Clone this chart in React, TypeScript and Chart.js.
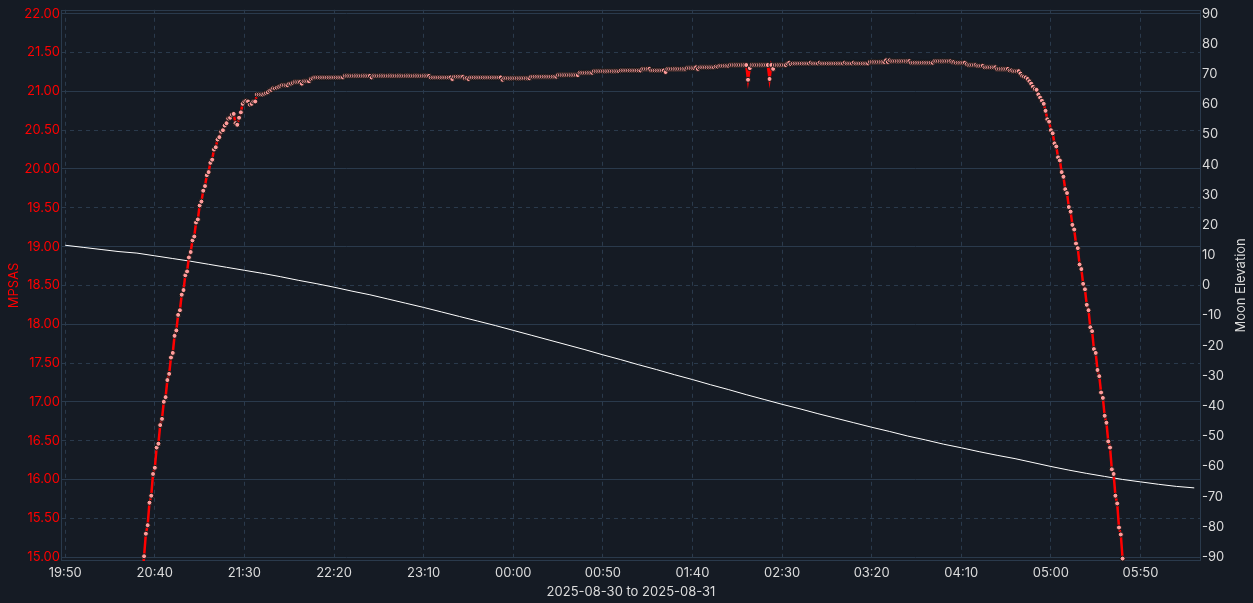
import { useEffect, useRef } from "react";
import { Chart, registerables } from "chart.js";

Chart.register(...registerables);

// ---- data ----
const axisOrigin = "19:50";
const xTickLabels = ["19:50", "20:40", "21:30", "22:20", "23:10", "00:00", "00:50", "01:40", "02:30", "03:20", "04:10", "05:00", "05:50"];
const mpsasTicks = [15, 15.5, 16, 16.5, 17, 17.5, 18, 18.5, 19, 19.5, 20, 20.5, 21, 21.5, 22];
const moonTicks = [-90, -80, -70, -60, -50, -40, -30, -20, -10, 0, 10, 20, 30, 40, 50, 60, 70, 80, 90];

// sky brightness, one reading per minute from 20:33
const mpsasStart = "20:33";
const mpsasStep = 1;
const mpsasValues = [
  14.72,
  15.01, 15.30, 15.41, 15.70, 15.79, 16.07, 16.15, 16.41, 16.46, 16.70,
  16.78, 17.00, 17.06, 17.28, 17.36, 17.57, 17.63, 17.85, 17.92, 18.12,
  18.18, 18.38, 18.44, 18.63, 18.68, 18.86, 18.93, 19.08, 19.13, 19.31,
  19.35, 19.53, 19.58, 19.72, 19.78, 19.92, 19.96, 20.08, 20.12, 20.25,
  20.28, 20.38, 20.41, 20.48, 20.50, 20.56, 20.59, 20.65, 20.66, 20.70,
  20.71, 20.59, 20.57, 20.66, 20.73, 20.84, 20.87, 20.88, 20.87, 20.83,
  20.84, 20.87, 20.87, 20.96, 20.96, 20.96, 20.96, 20.97, 20.98, 20.99,
  21.01, 21.02, 21.04, 21.04, 21.05, 21.06, 21.07, 21.08, 21.08, 21.08,
  21.08, 21.10, 21.10, 21.11, 21.12, 21.12, 21.12, 21.12, 21.10, 21.13,
  21.13, 21.13, 21.13, 21.16, 21.17, 21.18, 21.18, 21.18, 21.18, 21.18,
  21.18, 21.18, 21.18, 21.18, 21.18, 21.18, 21.18, 21.18, 21.18, 21.18,
  21.18, 21.18, 21.20, 21.20, 21.20, 21.20, 21.20, 21.20, 21.20, 21.20,
  21.20, 21.20, 21.20, 21.20, 21.20, 21.20, 21.20, 21.18, 21.20, 21.20,
  21.20, 21.20, 21.20, 21.20, 21.20, 21.20, 21.20, 21.20, 21.20, 21.20,
  21.20, 21.20, 21.20, 21.20, 21.20, 21.20, 21.20, 21.20, 21.20, 21.20,
  21.20, 21.20, 21.20, 21.20, 21.20, 21.20, 21.20, 21.20, 21.20, 21.20,
  21.18, 21.18, 21.18, 21.18, 21.18, 21.18, 21.18, 21.18, 21.18, 21.18,
  21.18, 21.18, 21.16, 21.19, 21.19, 21.19, 21.19, 21.19, 21.19, 21.17,
  21.17, 21.16, 21.18, 21.18, 21.18, 21.18, 21.18, 21.18, 21.18, 21.18,
  21.18, 21.18, 21.18, 21.18, 21.18, 21.18, 21.18, 21.18, 21.18, 21.18,
  21.15, 21.17, 21.17, 21.17, 21.17, 21.17, 21.17, 21.17, 21.17, 21.17,
  21.17, 21.17, 21.17, 21.17, 21.17, 21.17, 21.19, 21.19, 21.19, 21.19,
  21.19, 21.19, 21.19, 21.19, 21.19, 21.19, 21.19, 21.19, 21.19, 21.19,
  21.19, 21.21, 21.21, 21.21, 21.21, 21.21, 21.21, 21.21, 21.21, 21.21,
  21.21, 21.21, 21.21, 21.24, 21.24, 21.24, 21.24, 21.24, 21.24, 21.24,
  21.24, 21.26, 21.26, 21.26, 21.26, 21.26, 21.26, 21.26, 21.26, 21.26,
  21.26, 21.26, 21.26, 21.26, 21.26, 21.26, 21.27, 21.27, 21.27, 21.27,
  21.27, 21.27, 21.27, 21.27, 21.27, 21.27, 21.27, 21.27, 21.29, 21.29,
  21.29, 21.29, 21.29, 21.27, 21.27, 21.27, 21.27, 21.27, 21.27, 21.27,
  21.27, 21.25, 21.29, 21.29, 21.29, 21.29, 21.29, 21.29, 21.29, 21.29,
  21.29, 21.29, 21.29, 21.30, 21.30, 21.30, 21.30, 21.30, 21.31, 21.29,
  21.31, 21.31, 21.31, 21.31, 21.31, 21.31, 21.31, 21.31, 21.31, 21.32,
  21.32, 21.33, 21.33, 21.33, 21.33, 21.33, 21.33, 21.34, 21.34, 21.34,
  21.34, 21.34, 21.34, 21.34, 21.34, 21.34, 21.34, 21.15, 21.30, 21.34,
  21.34, 21.34, 21.34, 21.34, 21.34, 21.34, 21.34, 21.34, 21.34, 21.16,
  21.34, 21.29, 21.34, 21.34, 21.34, 21.34, 21.34, 21.34, 21.34, 21.36,
  21.37, 21.35, 21.36, 21.36, 21.36, 21.36, 21.36, 21.36, 21.36, 21.36,
  21.36, 21.36, 21.37, 21.36, 21.36, 21.36, 21.36, 21.37, 21.36, 21.36,
  21.36, 21.36, 21.36, 21.36, 21.36, 21.36, 21.36, 21.36, 21.36, 21.36,
  21.36, 21.37, 21.36, 21.36, 21.36, 21.36, 21.37, 21.36, 21.36, 21.36,
  21.36, 21.36, 21.36, 21.36, 21.36, 21.38, 21.38, 21.38, 21.38, 21.38,
  21.38, 21.38, 21.38, 21.38, 21.40, 21.38, 21.40, 21.39, 21.39, 21.39,
  21.39, 21.39, 21.39, 21.39, 21.39, 21.39, 21.39, 21.39, 21.37, 21.37,
  21.37, 21.37, 21.37, 21.37, 21.37, 21.37, 21.37, 21.37, 21.37, 21.37,
  21.37, 21.39, 21.39, 21.39, 21.39, 21.39, 21.39, 21.39, 21.39, 21.39,
  21.39, 21.38, 21.38, 21.37, 21.37, 21.37, 21.37, 21.37, 21.37, 21.35,
  21.34, 21.34, 21.34, 21.34, 21.34, 21.33, 21.33, 21.33, 21.33, 21.31,
  21.31, 21.31, 21.31, 21.31, 21.31, 21.31, 21.29, 21.29, 21.29, 21.29,
  21.29, 21.29, 21.29, 21.27, 21.27, 21.26, 21.26, 21.26, 21.26, 21.23,
  21.20, 21.19, 21.18, 21.16, 21.13, 21.10, 21.06, 21.03, 21.02, 20.96,
  20.92, 20.88, 20.84, 20.75, 20.64, 20.61, 20.50, 20.46, 20.33, 20.29,
  20.15, 20.11, 19.96, 19.90, 19.74, 19.69, 19.51, 19.45, 19.28, 19.22,
  19.04, 18.98, 18.77, 18.71, 18.52, 18.45, 18.25, 18.18, 17.96, 17.91,
  17.68, 17.63, 17.41, 17.33, 17.12, 17.05, 16.82, 16.73, 16.49, 16.41,
  16.13, 16.07, 15.79, 15.69, 15.38, 15.29, 14.98,
  14.70,
];

// moon elevation in degrees, every 10 minutes from 19:50
const moonStart = "19:50";
const moonStep = 10;
const moonElevation = [
  13.3, 12.6, 11.9, 11.2, 10.7, 9.8, 8.9, 8.0, 7.0, 6.0,
  5.0, 4.0, 2.9, 1.7, 0.6, -0.6, -1.9, -3.1, -4.5, -5.9,
  -7.3, -8.8, -10.3, -11.8, -13.3, -14.9, -16.5, -18.1, -19.7, -21.3,
  -23.0, -24.6, -26.3, -27.9, -29.6, -31.2, -32.9, -34.5, -36.2, -37.8,
  -39.4, -40.9, -42.5, -44.0, -45.5, -47.0, -48.4, -49.9, -51.2, -52.6,
  -53.8, -55.1, -56.3, -57.4, -58.7, -60.0, -61.2, -62.3, -63.3, -64.3,
  -65.1, -65.9, -66.6, -67.1,
];

const xTitle = "2025-08-30 to 2025-08-31";
const mpsasTitle = "MPSAS";
const moonTitle = "Moon Elevation";

// ---- styling ----
const BG = "#151b24";
const GRID = "#2a3a4c";
const TEXT = "#dcdcdc";
const RED = "#ff0000";
const FONT = "Inter";
const FONT_SIZE = 13;

const originMin = (() => {
  const [h, m] = axisOrigin.split(":").map(Number);
  return h * 60 + m;
})();

function toMinutes(hhmm: string) {
  const [h, m] = hhmm.split(":").map(Number);
  const t = h * 60 + m - originMin;
  return t < 0 ? t + 1440 : t;
}

function clock(v: number) {
  const t = ((Math.round(v) + originMin) % 1440 + 1440) % 1440;
  return `${String(Math.floor(t / 60)).padStart(2, "0")}:${String(t % 60).padStart(2, "0")}`;
}

const framePlugin = {
  id: "frame",
  beforeDatasetsDraw(chart: any) {
    const { ctx, chartArea: a } = chart;
    ctx.save();
    ctx.strokeStyle = GRID;
    ctx.lineWidth = 1;
    ctx.strokeRect(Math.round(a.left) - 0.5, Math.round(a.top) + 0.5, Math.round(a.width) + 1, Math.round(a.height) - 1);
    ctx.restore();
  },
  afterDraw(chart: any) {
    const { ctx, chartArea: a } = chart;
    ctx.save();
    ctx.translate(chart.width - 12, (a.top + a.bottom) / 2);
    ctx.rotate(-Math.PI / 2);
    ctx.font = `${FONT_SIZE}px ${FONT}`;
    ctx.fillStyle = TEXT;
    ctx.textAlign = "center";
    ctx.textBaseline = "middle";
    ctx.fillText(moonTitle, 0, 0);
    ctx.restore();
  },
};

export default function App() {
  const canvasRef = useRef<HTMLCanvasElement>(null);
  const chartRef = useRef<Chart | null>(null);

  useEffect(() => {
    if (!canvasRef.current) return;
    Chart.defaults.font.family = FONT;
    Chart.defaults.font.size = FONT_SIZE;

    const m0 = toMinutes(mpsasStart);
    const mpsasPoints = mpsasValues.map((y, i) => ({ x: m0 + i * mpsasStep, y }));
    const n0 = toMinutes(moonStart);
    const moonPoints = moonElevation.map((y, i) => ({ x: n0 + i * moonStep, y }));
    const xTickValues = xTickLabels.map(toMinutes);

    if (chartRef.current) chartRef.current.destroy();

    chartRef.current = new Chart(canvasRef.current, {
      type: "line",
      data: {
        datasets: [
          {
            label: mpsasTitle,
            data: mpsasPoints,
            yAxisID: "y",
            borderColor: RED,
            borderWidth: 2.5,
            pointRadius: 2.5,
            pointBackgroundColor: "#ff9c9c",
            pointBorderColor: "#161616",
            pointBorderWidth: 1,
            tension: 0,
          },
          {
            label: moonTitle,
            data: moonPoints,
            yAxisID: "y1",
            borderColor: "#ffffff",
            borderWidth: 1,
            pointRadius: 0,
            tension: 0,
          },
        ],
      },
      options: {
        animation: false,
        responsive: true,
        maintainAspectRatio: false,
        layout: { padding: { top: 8, left: 0, right: 0, bottom: 0 } },
        plugins: {
          legend: { display: false },
          tooltip: { enabled: false },
        },
        scales: {
          x: {
            type: "linear",
            min: -1.8,
            max: 633.2,
            afterBuildTicks: (s: any) => { s.ticks = xTickValues.map(value => ({ value })); },
            afterFit: (s: any) => { s.height = 42; },
            ticks: {
              color: TEXT,
              padding: 4,
              autoSkip: false,
              maxRotation: 0,
              callback: (v: any) => clock(Number(v)),
            },
            grid: { color: GRID, drawTicks: false },
            border: { display: false, dash: [4, 4] },
            title: { display: true, text: xTitle, color: TEXT, padding: { top: 0, bottom: 3 } },
          },
          y: {
            type: "linear",
            position: "left",
            min: 14.9486,
            max: 22.0514,
            afterBuildTicks: (s: any) => { s.ticks = mpsasTicks.map(value => ({ value })); },
            afterFit: (s: any) => { s.width = 62; },
            ticks: {
              color: RED,
              padding: 2,
              callback: (v: any) => Number(v).toFixed(2),
            },
            grid: { color: GRID, drawTicks: false },
            border: {
              display: false,
              dash: (ctx: any) => (ctx.tick && Number.isInteger(ctx.tick.value) ? [] : [4, 4]),
            },
            title: { display: true, text: mpsasTitle, color: RED, padding: { top: 6, bottom: 0 } },
          },
          y1: {
            type: "linear",
            position: "right",
            min: -91.32,
            max: 91.32,
            afterBuildTicks: (s: any) => { s.ticks = moonTicks.map(value => ({ value })); },
            afterFit: (s: any) => { s.width = 53; },
            ticks: {
              color: TEXT,
              padding: 2,
              callback: (v: any) => String(v),
            },
            grid: { drawOnChartArea: false, drawTicks: false },
            border: { display: false },
          },
        },
      },
      plugins: [framePlugin],
    } as any);

    return () => { chartRef.current?.destroy(); chartRef.current = null; };
  }, []);

  return (
    <div style={{ position: "fixed", inset: 0, background: BG }}>
      <canvas ref={canvasRef} />
    </div>
  );
}
